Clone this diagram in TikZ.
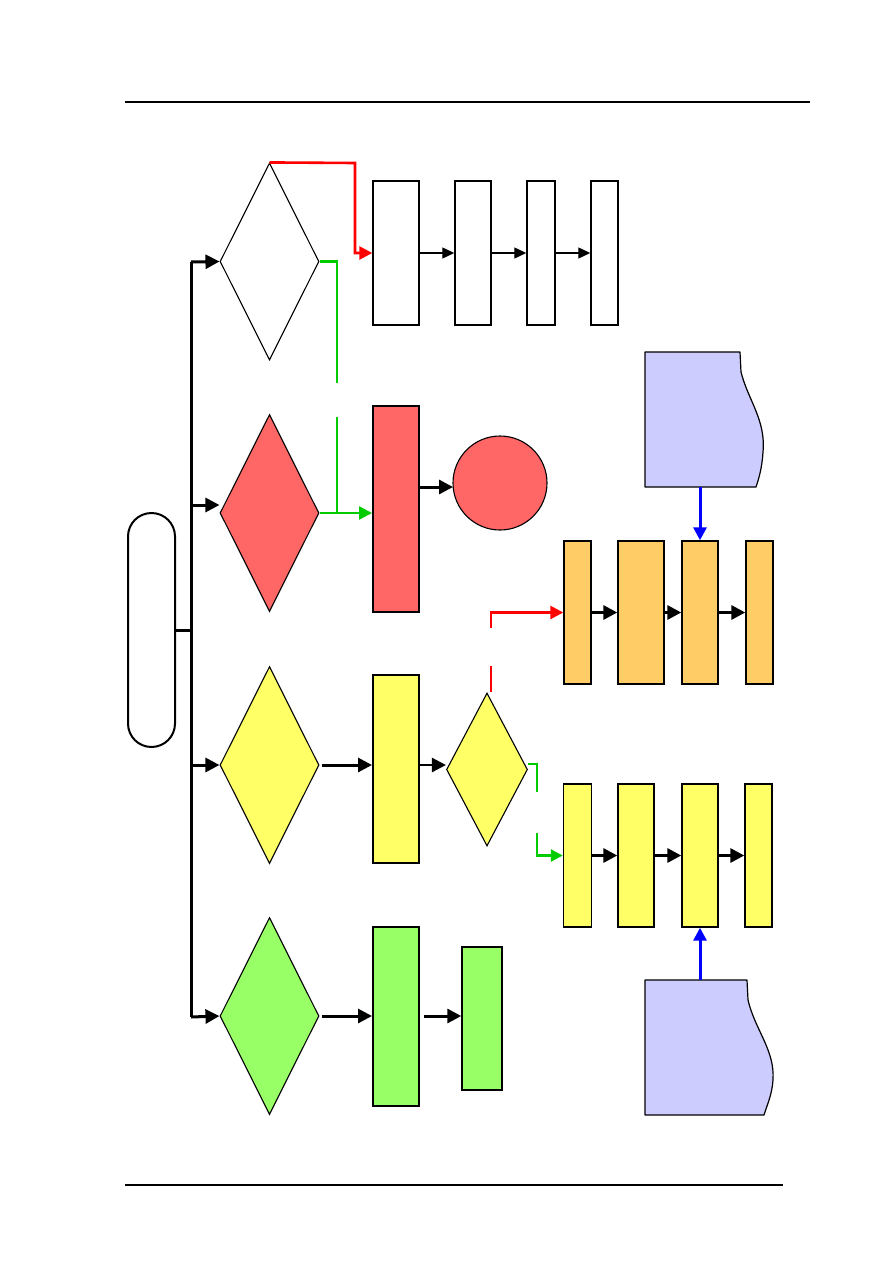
\documentclass[tikz,border=0pt]{standalone}
\usetikzlibrary{shapes.geometric,arrows.meta}

\definecolor{redfill}{HTML}{FF6666}
\definecolor{yelfill}{HTML}{FFFF66}
\definecolor{grnfill}{HTML}{99FF66}
\definecolor{orgfill}{HTML}{FFCC66}
\definecolor{docfill}{HTML}{CCCCFF}
\definecolor{grnline}{HTML}{00CC00}

\tikzset{
  choice/.style={draw, shape=diamond, inner sep=0pt, line width=1.1pt},
  stepbox/.style={draw, rectangle, inner sep=0pt, line width=1.4pt, minimum height=143pt},
  tallbox/.style={draw, rectangle, inner sep=0pt, line width=2pt, minimum width=46pt},
  flow/.style={line width=3pt, -{Triangle[length=14pt, width=14pt]}},
  thinflow/.style={line width=1.2pt, -{Triangle[length=12pt, width=11pt]}},
  redflow/.style={red, line width=2.6pt},
  grnflow/.style={grnline, line width=2.6pt},
  bluflow/.style={blue, line width=3pt},
  docline/.style={draw, fill=docfill, line width=1.2pt, line join=round}
}

\begin{document}
\begin{tikzpicture}[x=1pt, y=-1pt]

\useasboundingbox (0,0) rectangle (893,1263);

\draw[line width=1.3pt] (125,102) -- (810,102);
\draw[line width=1.3pt] (125,1185) -- (783,1185);

% start and trunk
\node[draw, rectangle, rounded corners=23.5pt, line width=2pt, minimum width=47pt, minimum height=234pt] (start) at (151.5,630) {};
\coordinate (trunkA) at (191,262);
\coordinate (trunkB) at (191,505);
\coordinate (trunkC) at (191,765);
\coordinate (trunkD) at (191,1017);
\draw[line width=3pt] (trunkA) -- (trunkD);
\draw[line width=3pt] (start.east) -- (start.east -| trunkA);

% decisions
\node[choice, fill=white, minimum width=99pt, minimum height=197pt] (dec1) at (269.5,261.5) {};
\node[choice, fill=redfill, minimum width=99pt, minimum height=197pt] (dec2) at (269.5,513) {};
\node[choice, fill=yelfill, minimum width=99pt, minimum height=197pt] (dec3) at (269.5,765) {};
\node[choice, fill=grnfill, minimum width=99pt, minimum height=197pt] (dec4) at (269.5,1016) {};

\draw[flow] (trunkA) -- (dec1.west);
\draw[flow] (trunkB) -- (trunkB -| dec2.west);
\draw[flow] (trunkC) -- (dec3.west);
\draw[flow] (trunkD) -- (dec4.west);

% white row
\node[stepbox, fill=white, minimum width=46pt, minimum height=144pt] (wht1) at (396,253) {};
\node[stepbox, fill=white, minimum width=36pt, minimum height=144pt] (wht2) at (473,253) {};
\node[stepbox, fill=white, minimum width=28pt, minimum height=144pt] (wht3) at (541,253) {};
\node[stepbox, fill=white, minimum width=27pt, minimum height=144pt] (wht4) at (604.5,253) {};
\draw[thinflow] (wht1.east) -- (wht2.west);
\draw[thinflow] (wht2.east) -- (wht3.west);
\draw[thinflow] (wht3.east) -- (wht4.west);

\coordinate (redbend) at (355,163);
\draw[redflow, -{Triangle[length=13pt, width=13pt]}] (dec1.north) -- (redbend) |- (wht1.west);

% red row
\node[tallbox, fill=redfill, minimum height=206pt] (redbox) at (396,509) {};
\node[draw, circle, fill=redfill, line width=1.1pt, minimum size=94pt, inner sep=0pt] (redend) at (500,483) {};
\draw[flow] (redbox.east |- 0,487) -- (453,487);

\coordinate (grnA) at (337,383);
\coordinate (grnB) at (337,417);
\draw[grnflow] (dec1.east) -| (grnA);
\draw[grnflow] (grnB) -- (grnB |- dec2.east);
\draw[grnflow, -{Triangle[length=13pt, width=13pt]}] (dec2.east) -- (dec2.east -| redbox.west);

% yellow branch
\node[tallbox, fill=yelfill, minimum height=188pt] (yelbox) at (396,769) {};
\node[choice, fill=yelfill, minimum width=81pt, minimum height=153pt] (dec5) at (487,769.5) {};
\draw[flow, shorten <=2pt] (dec3.east) -- (dec3.east -| yelbox.west);
\draw[flow, line width=2.4pt] (yelbox.east |- 0,765) -- (dec5.west |- 0,765);

% orange row
\node[stepbox, fill=orgfill, minimum width=27pt] (org1) at (577.5,612.5) {};
\node[stepbox, fill=orgfill, minimum width=46pt] (org2) at (641,612.5) {};
\node[stepbox, fill=orgfill, minimum width=36pt] (org3) at (700,612.5) {};
\node[stepbox, fill=orgfill, minimum width=27pt] (org4) at (759.5,612.5) {};
\draw[flow] (org1.east) -- (org2.west);
\draw[flow] (org2.east) -- (org3.west);
\draw[flow] (org3.east) -- (org4.west);

\coordinate (redC) at (491,666);
\coordinate (redD) at (491,628);
\draw[redflow] (redC |- dec5.north) -- (redC);
\draw[redflow, -{Triangle[length=13pt, width=13pt]}] (redD) |- (org1.west);

% yellow row
\node[stepbox, fill=yelfill, minimum width=28pt] (yel1) at (577.5,855.5) {};
\node[stepbox, fill=yelfill, minimum width=36pt] (yel2) at (636,855.5) {};
\node[stepbox, fill=yelfill, minimum width=36pt] (yel3) at (700,855.5) {};
\node[stepbox, fill=yelfill, minimum width=27pt] (yel4) at (758.5,855.5) {};
\draw[flow] (yel1.east) -- (yel2.west);
\draw[flow] (yel2.east) -- (yel3.west);
\draw[flow] (yel3.east) -- (yel4.west);

\coordinate (grnC) at (537,792);
\coordinate (grnD) at (537,833);
\draw[grnflow] (dec5.east |- 0,764) -| (grnC);
\draw[grnflow, -{Triangle[length=12pt, width=12pt]}] (grnD) |- (yel1.west);

% documents
\node[minimum width=118pt, minimum height=135pt, inner sep=0pt] (docA) at (704,419.5) {};
\draw[docline] (645,352) -- (740,352) -- (741,372) .. controls (748,400) and (766,420) .. (763,452)
  .. controls (762,468) and (759,478) .. (756,487) -- (645,487) -- cycle;
\node[minimum width=128pt, minimum height=135pt, inner sep=0pt] (docB) at (709,1047.5) {};
\draw[docline] (645,980) -- (747,980) -- (748,1000) .. controls (755,1030) and (775,1050) .. (773,1080)
  .. controls (772,1095) and (767,1105) .. (764,1115) -- (645,1115) -- cycle;
\draw[bluflow, -{Triangle[length=13pt, width=13pt]}] (org3.north |- docA.south) -- (org3.north);
\draw[bluflow, -{Triangle[length=13pt, width=13pt]}] (yel3.south |- docB.north) -- (yel3.south);

% green row
\node[tallbox, fill=grnfill, minimum height=179pt] (grnbox) at (396,1016.5) {};
\node[stepbox, fill=grnfill, minimum width=40pt] (grnend) at (482,1018.5) {};
\draw[flow, shorten <=2pt] (dec4.east) -- (dec4.east -| grnbox.west);
\draw[flow, shorten <=4pt] (grnbox.east |- 0,1016) -- (grnend.west |- 0,1016);

\end{tikzpicture}
\end{document}
